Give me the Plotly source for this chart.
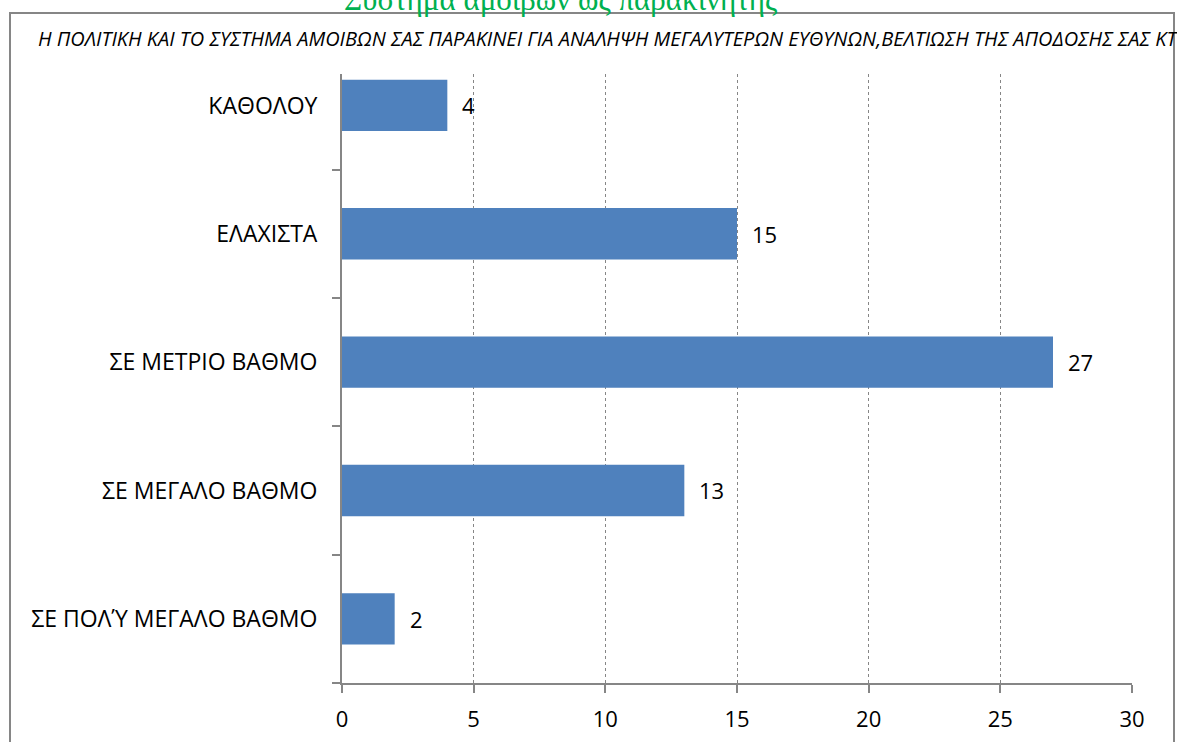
import plotly.graph_objects as go

# Survey responses: how much the reward policy motivates employees
categories = [
    "ΣΕ ΠΟΛΎ ΜΕΓΑΛΟ ΒΑΘΜΟ",
    "ΣΕ ΜΕΓΑΛΟ ΒΑΘΜΟ",
    "ΣΕ ΜΕΤΡΙΟ ΒΑΘΜΟ",
    "ΕΛΑΧΙΣΤΑ",
    "ΚΑΘΟΛΟΥ",
]
counts = [2, 13, 27, 15, 4]
x_ticks = [0, 5, 10, 15, 20, 25, 30]

title_text = "Σύστημα αμοιβών ως παρακινητής"
subtitle_text = ("Η ΠΟΛΙΤΙΚΗ ΚΑΙ ΤΟ ΣΥΣΤΗΜΑ ΑΜΟΙΒΩΝ ΣΑΣ ΠΑΡΑΚΙΝΕΙ ΓΙΑ ΑΝΑΛΗΨΗ "
                 "ΜΕΓΑΛΥΤΕΡΩΝ ΕΥΘΥΝΩΝ,ΒΕΛΤΙΩΣΗ ΤΗΣ ΑΠΟΔΟΣΗΣ ΣΑΣ ΚΤ")

W, H = 1177, 742
L, R, T, B = 342, 1132, 74, 683  # plot-area edges in pixels


def px_x(px):
    return (px - L) / (R - L)


def px_y(py):
    return (B - py) / (B - T)


FONT = "Open Sans"
AXIS_GREY = "#868686"
BAR_BLUE = "#4F81BD"

fig = go.Figure()
fig.add_trace(go.Bar(
    x=counts,
    y=categories,
    orientation="h",
    width=0.4,
    marker=dict(color=BAR_BLUE, line=dict(width=0)),
    hoverinfo="skip",
))

# value labels to the right of each bar
for c, v in zip(categories, counts):
    fig.add_annotation(
        x=v, y=c, xref="x", yref="y",
        text=str(v), showarrow=False,
        xanchor="left", yanchor="middle", xshift=13,
        font=dict(family=FONT, size=22, color="#000000"),
    )

# chart title (green serif) above the frame
fig.add_annotation(
    x=px_x(560), y=px_y(19), xref="paper", yref="paper",
    text=title_text, showarrow=False,
    xanchor="center", yanchor="bottom",
    font=dict(family="Liberation Serif", size=31, color="#00B050"),
)

# italic question text
fig.add_annotation(
    x=px_x(36), y=px_y(39), xref="paper", yref="paper",
    text="<i>" + subtitle_text + "</i>", showarrow=False,
    xanchor="left", yanchor="middle",
    font=dict(family=FONT, size=20, color="#000000"),
)

# outer chart frame
fig.add_shape(
    type="rect", xref="paper", yref="paper",
    x0=px_x(10), x1=px_x(1174), y0=px_y(770), y1=px_y(13),
    line=dict(color=AXIS_GREY, width=2), fillcolor="rgba(0,0,0,0)",
    layer="below",
)

fig.update_layout(
    width=W, height=H,
    margin=dict(l=L, r=W - R, t=T, b=H - B, pad=0, autoexpand=False),
    paper_bgcolor="white",
    plot_bgcolor="white",
    showlegend=False,
    bargap=0.6,
    xaxis=dict(
        range=[0, 30],
        tickvals=x_ticks,
        ticktext=[str(t) for t in x_ticks],
        automargin=False,
        showgrid=True,
        gridcolor=AXIS_GREY,
        griddash="dot",
        gridwidth=1,
        zeroline=False,
        showline=True,
        linecolor=AXIS_GREY,
        linewidth=2,
        ticks="outside",
        ticklen=8,
        tickwidth=2,
        tickcolor=AXIS_GREY,
        ticklabelstandoff=8,
        tickfont=dict(family=FONT, size=22, color="#000000"),
        fixedrange=True,
    ),
    yaxis=dict(
        type="category",
        categoryorder="array",
        categoryarray=categories,
        range=[-0.5, 4.245],
        automargin=False,
        tickson="boundaries",
        showgrid=False,
        zeroline=False,
        showline=True,
        linecolor=AXIS_GREY,
        linewidth=2,
        ticks="outside",
        ticklen=8,
        tickwidth=2,
        tickcolor=AXIS_GREY,
        ticklabelstandoff=18,
        tickfont=dict(family=FONT, size=23, color="#000000"),
        fixedrange=True,
    ),
)

fig.write_html("out.html")
